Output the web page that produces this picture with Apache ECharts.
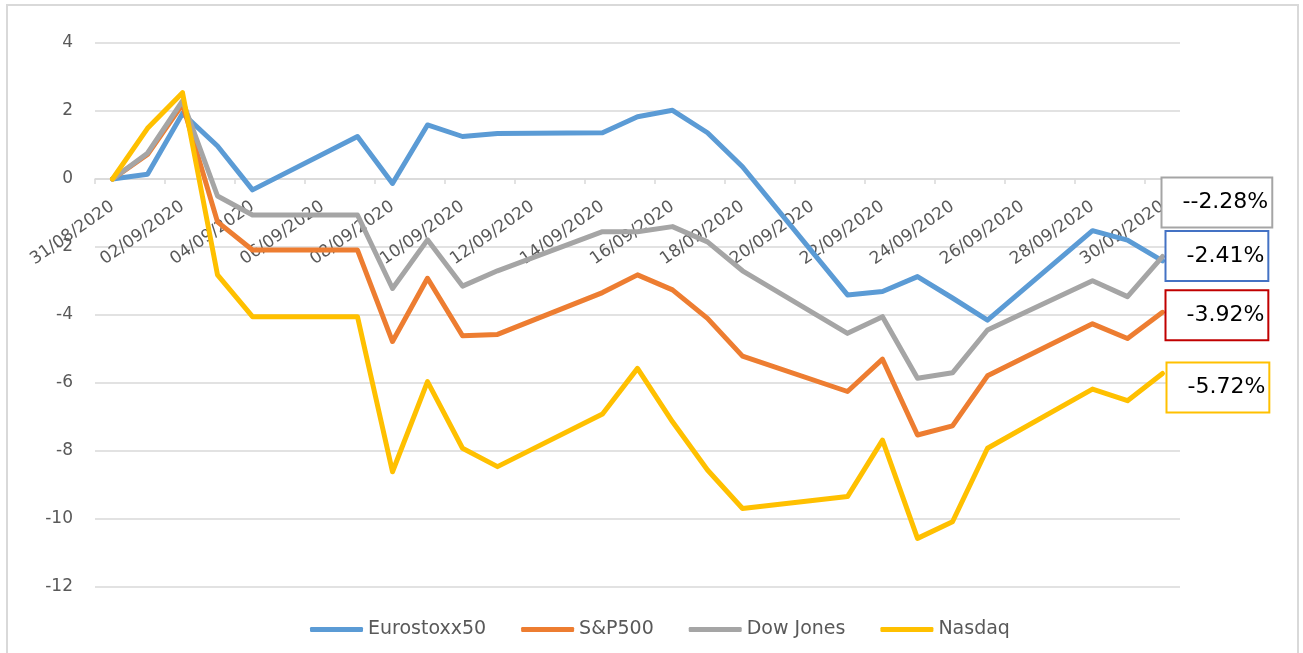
<!DOCTYPE html>
<html style="height: 100%">
<head>
    <meta charset="utf-8">
</head>
<body style="height: 100%; margin: 0; background: #fff">
<div id="container" style="width: 1303px; height: 653px"></div>
<script src="https://cdn.jsdelivr.net/npm/echarts@6/dist/echarts.min.js"></script>
<script>
// calendar days of the month (weekends have no quote -> null)
var days = ['31/08/2020', '01/09/2020', '02/09/2020', '03/09/2020', '04/09/2020', '05/09/2020', '06/09/2020',
    '07/09/2020', '08/09/2020', '09/09/2020', '10/09/2020', '11/09/2020', '12/09/2020', '13/09/2020',
    '14/09/2020', '15/09/2020', '16/09/2020', '17/09/2020', '18/09/2020', '19/09/2020', '20/09/2020',
    '21/09/2020', '22/09/2020', '23/09/2020', '24/09/2020', '25/09/2020', '26/09/2020', '27/09/2020',
    '28/09/2020', '29/09/2020', '30/09/2020'];

var eurostoxx = [0, 0.14, 1.93, 0.97, -0.32, null, null, 1.25, -0.13, 1.59, 1.25, 1.34, null, null,
    1.36, 1.83, 2.02, 1.36, 0.36, null, null, -3.41, -3.31, -2.87, -3.5, -4.15, null, null, -1.52, -1.8, -2.41];
var sp500 = [0, 0.72, 2.2, -1.26, -2.09, null, null, -2.09, -4.78, -2.92, -4.61, -4.57, null, null,
    -3.34, -2.82, -3.26, -4.1, -5.21, null, null, -6.25, -5.3, -7.53, -7.26, -5.79, null, null, -4.26, -4.69, -3.92];
var dowJones = [0, 0.76, 2.3, -0.5, -1.06, null, null, -1.06, -3.22, -1.79, -3.15, -2.7, null, null,
    -1.55, -1.55, -1.4, -1.85, -2.7, null, null, -4.54, -4.05, -5.86, -5.7, -4.44, null, null, -2.99, -3.46, -2.28];
var nasdaq = [0, 1.49, 2.54, -2.82, -4.05, null, null, -4.05, -8.61, -5.96, -7.92, -8.46, null, null,
    -6.91, -5.57, -7.14, -8.56, -9.69, null, null, -9.34, -7.68, -10.57, -10.08, -7.92, null, null, -6.18, -6.52, -5.72];

var names = ['Eurostoxx50', 'S&P500', 'Dow Jones', 'Nasdaq'];
var endLabels = ['-2.41%', '-3.92%', '--2.28%', '-5.72%'];

var colors = ['#5b9bd5', '#ed7d31', '#a5a5a5', '#ffc000'];
var boxColors = ['#4472c4', '#c00000', '#a5a5a5', '#ffc000'];
var boxOffsets = [[4, -5], [4, 3], [0, -54], [5, 14]];

var dom = document.getElementById('container');
var myChart = echarts.init(dom);

function withEndLabel(values, k) {
    return values.map(function (v, i) {
        if (i !== values.length - 1) return v;
        return {
            value: v,
            label: {
                show: true,
                position: 'right',
                distance: 0,
                offset: boxOffsets[k],
                formatter: endLabels[k],
                color: '#000',
                fontSize: 22,
                fontFamily: 'DejaVu Sans',
                backgroundColor: '#fff',
                borderColor: boxColors[k],
                borderWidth: 2,
                padding: [14, 3, 12, 20]
            }
        };
    });
}

var allSeries = [eurostoxx, sp500, dowJones, nasdaq].map(function (values, k) {
    return {
        name: names[k],
        type: 'line',
        data: withEndLabel(values, k),
        connectNulls: true,
        symbol: 'circle',
        symbolSize: 0,
        showAllSymbol: true,
        color: colors[k],
        lineStyle: {width: 5, color: colors[k], cap: 'round', join: 'round'},
        emphasis: {disabled: true},
        animation: false
    };
});

var option = {
    animation: false,
    graphic: [{
        type: 'rect',
        shape: {x: 7, y: 5, width: 1291, height: 700},
        style: {fill: 'none', stroke: '#d9d9d9', lineWidth: 2},
        silent: true
    }],
    grid: {left: 95, right: 123, top: 43, bottom: 66, containLabel: false, outerBoundsMode: 'none'},
    legend: {
        data: names,
        left: 305,
        top: 615,
        icon: 'roundRect',
        itemWidth: 53,
        itemHeight: 5,
        itemGap: 35,
        textStyle: {color: '#595959', fontSize: 19, fontFamily: 'DejaVu Sans'}
    },
    xAxis: {
        type: 'category',
        data: days,
        boundaryGap: true,
        position: 'bottom',
        // Excel crosses the date axis at 0: move it up from the -12 edge
        offset: -408,
        axisLine: {onZero: false, lineStyle: {color: '#d9d9d9', width: 1.5}},
        axisTick: {show: true, interval: 1, length: 5, lineStyle: {color: '#d9d9d9', width: 1.5}},
        axisLabel: {
            interval: 1,
            rotate: 35,
            margin: 26,
            color: '#595959',
            fontSize: 17,
            fontFamily: 'DejaVu Sans'
        },
        splitLine: {show: false}
    },
    yAxis: {
        type: 'value',
        min: -12,
        max: 4,
        interval: 2,
        axisLine: {show: false},
        axisTick: {show: false},
        axisLabel: {color: '#595959', fontSize: 17, fontFamily: 'DejaVu Sans', margin: 22},
        splitLine: {lineStyle: {color: '#d9d9d9', width: 1.5}}
    },
    series: allSeries
};

myChart.setOption(option);
</script>
</body>
</html>
